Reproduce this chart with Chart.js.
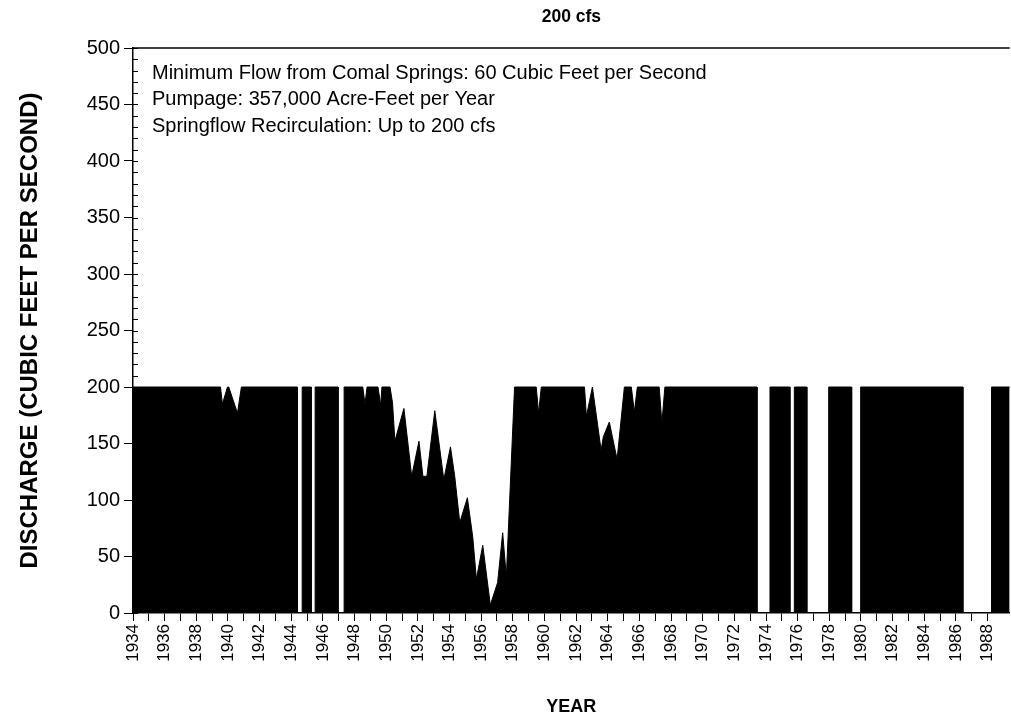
<!DOCTYPE html>
<html>
<head>
<meta charset="utf-8">
<script src="https://cdn.jsdelivr.net/npm/chart.js@4"></script>
<style>
  html, body { margin: 0; padding: 0; background: #fff; }
</style>
</head>
<body>
<canvas id="flowChart" width="1011" height="721"></canvas>
<script>
const chartTitle = '200 cfs';
const notes = [
  'Minimum Flow from Comal Springs: 60 Cubic Feet per Second',
  'Pumpage: 357,000 Acre-Feet per Year',
  'Springflow Recirculation: Up to 200 cfs'
];

// breakpoints (decimal year, cfs)
const years = [
  1934.00, 1939.53, 1939.65, 1939.97, 1940.05, 1940.60, 1940.85,
  1944.38, 1944.38, 1944.69, 1944.69,
  1945.26, 1945.26, 1945.51, 1945.51,
  1946.96, 1946.96, 1947.34, 1947.34,
  1948.52, 1948.66, 1948.79, 1949.48, 1949.65, 1949.73, 1950.24,
  1950.40, 1950.55, 1950.80, 1951.12, 1951.61, 1952.07, 1952.32, 1952.57,
  1953.07, 1953.64, 1954.06, 1954.33, 1954.65, 1955.13, 1955.47, 1955.70,
  1956.10, 1956.58, 1957.04, 1957.36, 1957.59, 1958.11,
  1959.48, 1959.63, 1959.80, 1962.53, 1962.65, 1963.03, 1963.58, 1963.72,
  1964.10, 1964.29, 1964.59, 1965.05, 1965.49, 1965.68, 1965.87,
  1967.25, 1967.42, 1967.61,
  1973.43, 1973.43, 1974.25, 1974.25,
  1975.51, 1975.51, 1975.79, 1975.79,
  1976.58, 1976.58, 1977.96, 1977.96,
  1979.41, 1979.41, 1979.98, 1979.98,
  1986.44, 1986.44, 1988.25, 1988.25,
  1989.40
];
const flows = [
  200, 200, 185, 200, 200, 177, 200,
  200, 0, 0, 200,
  200, 0, 0, 200,
  200, 0, 0, 200,
  200, 185, 200, 200, 184, 200, 200,
  186, 152, 165, 181, 121, 152, 121, 121,
  179, 118, 147, 121, 80, 102, 67, 30,
  60, 7, 27, 71, 32, 200,
  200, 177, 200, 200, 174, 200, 144, 156,
  169, 156, 136, 200, 200, 178, 200,
  200, 168, 200,
  200, 0, 0, 200,
  200, 0, 0, 200,
  200, 0, 0, 200,
  200, 0, 0, 200,
  200, 0, 0, 200,
  200
];

const xMin = 1934, xMax = 1989.4;
const yMin = 0, yMax = 500, yStep = 50, yMinorStep = 10;
const labelEvery = 2;

const fontFamily = "Arial, 'Liberation Sans', sans-serif";

// top frame line, inner y ticks and the note text
const framePlugin = {
  id: 'frame',
  afterDraw(chart) {
    const { ctx, chartArea: a, scales: { y } } = chart;
    ctx.save();
    ctx.strokeStyle = '#000';
    ctx.lineWidth = 1.5;
    ctx.beginPath();
    ctx.moveTo(a.left, a.top);
    ctx.lineTo(a.right, a.top);
    ctx.stroke();

    ctx.lineWidth = 1;
    for (let v = yMin; v <= yMax; v += yMinorStep) {
      const py = Math.round(y.getPixelForValue(v)) + 0.5;
      ctx.beginPath();
      ctx.moveTo(a.left, py);
      ctx.lineTo(a.left + 5, py);
      ctx.stroke();
    }

    ctx.fillStyle = '#000';
    ctx.font = '20px ' + fontFamily;
    ctx.textBaseline = 'middle';
    notes.forEach((t, i) => ctx.fillText(t, a.left + 19, a.top + 25 + i * 26.5));
    ctx.restore();
  }
};

new Chart(document.getElementById('flowChart'), {
  type: 'line',
  data: {
    datasets: [{
      data: years.map((yr, i) => ({ x: yr, y: flows[i] })),
      borderColor: '#000',
      backgroundColor: '#000',
      borderWidth: 1,
      pointRadius: 0,
      tension: 0,
      fill: 'origin'
    }]
  },
  options: {
    responsive: false,
    animation: false,
    layout: { padding: 0 },
    plugins: {
      legend: { display: false },
      tooltip: { enabled: false },
      title: {
        display: true,
        text: chartTitle,
        fullSize: false,
        color: '#000',
        font: { family: fontFamily, size: 17.5, weight: 'bold' },
        padding: { top: 7, bottom: 20 }
      }
    },
    scales: {
      x: {
        type: 'linear',
        min: xMin,
        max: xMax,
        afterBuildTicks: s => { s.ticks = s.ticks.filter(t => Math.abs(t.value - Math.round(t.value)) < 1e-6); },
        afterFit: s => { s.height = 108; },
        ticks: {
          stepSize: 1,
          autoSkip: false,
          minRotation: 90,
          maxRotation: 90,
          padding: 3,
          color: '#000',
          font: { family: fontFamily, size: 17 },
          callback: v => (Math.round(v) % labelEvery === 0 ? String(Math.round(v)) : '')
        },
        grid: { drawOnChartArea: false, tickLength: 8, color: '#000', lineWidth: 1 },
        border: { color: '#000', width: 1.5 },
        title: {
          display: true,
          text: 'YEAR',
          color: '#000',
          font: { family: fontFamily, size: 18, weight: 'bold' },
          padding: { top: 0, bottom: 3 }
        }
      },
      y: {
        min: yMin,
        max: yMax,
        afterFit: s => { s.width = 133; },
        ticks: {
          stepSize: yStep,
          padding: 4,
          color: '#000',
          font: { family: fontFamily, size: 20 }
        },
        grid: { drawOnChartArea: false, tickLength: 9, color: '#000', lineWidth: 1 },
        border: { color: '#000', width: 1.5 },
        title: {
          display: true,
          text: 'DISCHARGE (CUBIC FEET PER SECOND)',
          color: '#000',
          font: { family: fontFamily, size: 24, weight: 'bold' },
          padding: { top: 16, bottom: 0 }
        }
      }
    }
  },
  plugins: [framePlugin]
});
</script>
</body>
</html>
